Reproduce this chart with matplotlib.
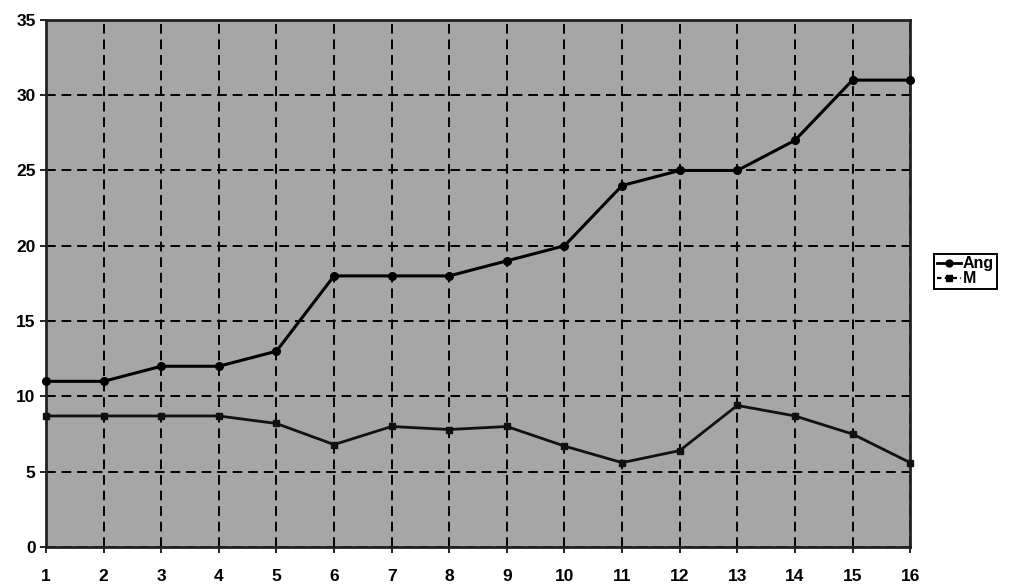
import numpy as np
import matplotlib.pyplot as plt
from matplotlib.lines import Line2D

plt.rcParams['font.family'] = ['Liberation Sans', 'DejaVu Sans']

# data
x = list(range(1, 17))
ang = [11, 11, 12, 12, 13, 18, 18, 18, 19, 20, 24, 25, 25, 27, 31, 31]
m = [8.7, 8.7, 8.7, 8.7, 8.2, 6.8, 8.0, 7.8, 8.0, 6.7, 5.6, 6.4, 9.4, 8.7, 7.5, 5.6]
xticks = list(range(1, 17))
yticks = [0, 5, 10, 15, 20, 25, 30, 35]
names = ['Ang', 'M']

fig = plt.figure(figsize=(10.09, 5.85), dpi=100)
ax = fig.add_axes([0.0456, 0.065, 0.8564, 0.901])
ax.set_facecolor('#a6a6a6')

ax.plot(x, ang, color='black', lw=2.2, marker='o', ms=5.5, clip_on=False, zorder=3)
ax.plot(x, m, color='#111111', lw=2, marker='s', ms=5, clip_on=False, zorder=3)

ax.set_xlim(1, 16)
ax.set_ylim(0, 35)
ax.set_xticks(xticks)
ax.set_yticks(yticks)
ax.grid(True, color='black', linestyle=(0, (5, 3)), linewidth=1.4)
ax.set_axisbelow(True)
for s in ax.spines.values():
    s.set_linewidth(2)
    s.set_color('#222222')
ax.tick_params(axis='both', length=4, width=1.2, labelsize=12.5)
ax.tick_params(axis='x', pad=12)
for lab in ax.get_xticklabels() + ax.get_yticklabels():
    lab.set_fontweight('bold')

handles = [Line2D([], [], color='black', lw=2, marker='o', ms=5),
           Line2D([], [], color='black', lw=1.6, ls=(0, (2, 1.5)), marker='s', ms=5)]
leg = fig.legend(handles, names, loc='upper left', bbox_to_anchor=(0.926, 0.566),
                 bbox_transform=fig.transFigure, prop={'size': 11.5, 'weight': 'bold'},
                 handlelength=1.5, handletextpad=0.15, borderpad=0.15, labelspacing=0.0,
                 borderaxespad=0, fancybox=False, framealpha=1, edgecolor='black')
leg.get_frame().set_linewidth(1.4)

fig.savefig('out.png', dpi=100)
